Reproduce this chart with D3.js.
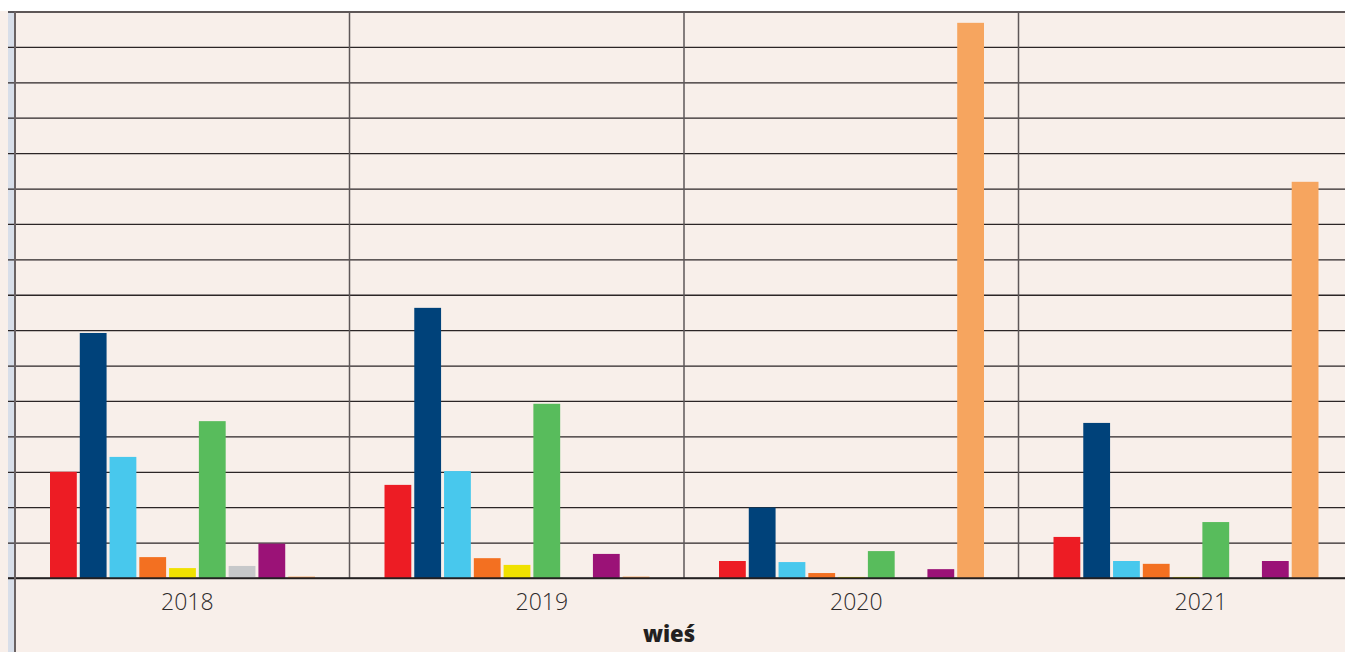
<!DOCTYPE html>
<html lang="pl">
<head>
<meta charset="utf-8">
<script src="https://cdn.jsdelivr.net/npm/d3@7"></script>
<style>
  html, body { margin: 0; padding: 0; background: #ffffff; }
  svg { display: block; }
</style>
</head>
<body>
<div id="chart"></div>
<script>
// Years on the category axis
const years = ["2018", "2019", "2020", "2021"];

// Series values per year (gridline units)
const seriesRed        = [3.00, 2.63, 0.48, 1.16];
const seriesNavy       = [6.92, 7.63, 1.99, 4.38];
const seriesCyan       = [3.42, 3.02, 0.45, 0.48];
const seriesOrange     = [0.59, 0.56, 0.14, 0.40];
const seriesYellow     = [0.28, 0.37, 0.03, 0.03];
const seriesGreen      = [4.43, 4.92, 0.76, 1.58];
const seriesGray       = [0.34, 0.03, 0.03, 0.03];
const seriesPurple     = [0.97, 0.68, 0.25, 0.48];
const seriesPeach      = [0.04, 0.04, 15.68, 11.19];

// Gridline ticks on the value axis
const yTicks = d3.range(0, 17, 1);

const axisTitle = "wieś";

const series = [
  { key: "red",    color: "#ed1c24", values: seriesRed },
  { key: "navy",   color: "#00427a", values: seriesNavy },
  { key: "cyan",   color: "#48c8ed", values: seriesCyan },
  { key: "orange", color: "#f37021", values: seriesOrange },
  { key: "yellow", color: "#f0e100", values: seriesYellow },
  { key: "green",  color: "#58bc5c", values: seriesGreen },
  { key: "gray",   color: "#c7c8ca", values: seriesGray },
  { key: "purple", color: "#9b1277", values: seriesPurple },
  { key: "peach",  color: "#f6a55f", values: seriesPeach }
];

const W = 1345, H = 652;
const plotLeft = 15, plotTop = 11.5, baseY = 578;
const groupWidth = 334.5;

const svg = d3.select("#chart").append("svg")
  .attr("width", W).attr("height", H);

// panel background
svg.append("rect").attr("x", 0).attr("y", 11).attr("width", W).attr("height", H - 11)
  .attr("fill", "#f8efea");
// left strip
svg.append("rect").attr("x", 8).attr("y", 11).attr("width", 7).attr("height", H - 11)
  .attr("fill", "#d8dee9");

const x0 = d3.scaleBand().domain(years)
  .range([plotLeft, plotLeft + groupWidth * years.length])
  .paddingInner(0).paddingOuter(0);

const x1 = d3.scaleBand().domain(series.map(s => s.key))
  .range([35, 300]).paddingInner(0.1).paddingOuter(0);

const y = d3.scaleLinear().domain([0, 16]).range([baseY, plotTop]);

// horizontal gridlines
const grid = d3.axisLeft(y).tickValues(yTicks).tickSize(-(W - 8)).tickFormat("");
const gridG = svg.append("g").attr("transform", `translate(8,0)`).call(grid);
gridG.select(".domain").remove();
gridG.selectAll(".tick line")
  .attr("stroke", "#2b2526").attr("stroke-width", 1.3)
  .attr("x1", 0).attr("x2", W - 8);

// vertical group dividers
svg.append("g").selectAll("line")
  .data(years.slice(1))
  .join("line")
  .attr("x1", d => x0(d)).attr("x2", d => x0(d))
  .attr("y1", plotTop).attr("y2", baseY)
  .attr("stroke", "#5e5758").attr("stroke-width", 1.5);

// bars
const groups = svg.append("g").selectAll("g")
  .data(years)
  .join("g")
  .attr("transform", d => `translate(${x0(d)},0)`);

groups.selectAll("rect")
  .data((yr, i) => series.map(s => ({ key: s.key, color: s.color, value: s.values[i] })))
  .join("rect")
  .attr("x", d => x1(d.key))
  .attr("width", x1.bandwidth())
  .attr("y", d => y(d.value))
  .attr("height", d => y(0) - y(d.value))
  .attr("fill", d => d.color);

// baseline
svg.append("line")
  .attr("x1", 8).attr("x2", W)
  .attr("y1", y(0)).attr("y2", y(0))
  .attr("stroke", "#231f20").attr("stroke-width", 1.5);

// left axis line
svg.append("line")
  .attr("x1", plotLeft).attr("x2", plotLeft)
  .attr("y1", plotTop).attr("y2", H)
  .attr("stroke", "#6a6263").attr("stroke-width", 2);

// year labels
const labelNudge = [5, 25, 5, 15];
const xAxis = d3.axisBottom(x0).tickSize(0).tickPadding(0);
const xg = svg.append("g").attr("transform", `translate(0,${baseY})`).call(xAxis);
xg.select(".domain").remove();
xg.selectAll(".tick text")
  .attr("dx", (d, i) => labelNudge[i])
  .attr("y", 32)
  .attr("dy", 0)
  .attr("font-family", "'Open Sans', sans-serif")
  .attr("font-weight", 300)
  .attr("font-size", 23)
  .attr("fill", "#2d2a2b");

// axis title
svg.append("text")
  .attr("x", 669).attr("y", 642)
  .attr("text-anchor", "middle")
  .attr("font-family", "'Open Sans', sans-serif")
  .attr("font-weight", 800)
  .attr("font-size", 22)
  .attr("fill", "#231f20")
  .text(axisTitle);
</script>
</body>
</html>
